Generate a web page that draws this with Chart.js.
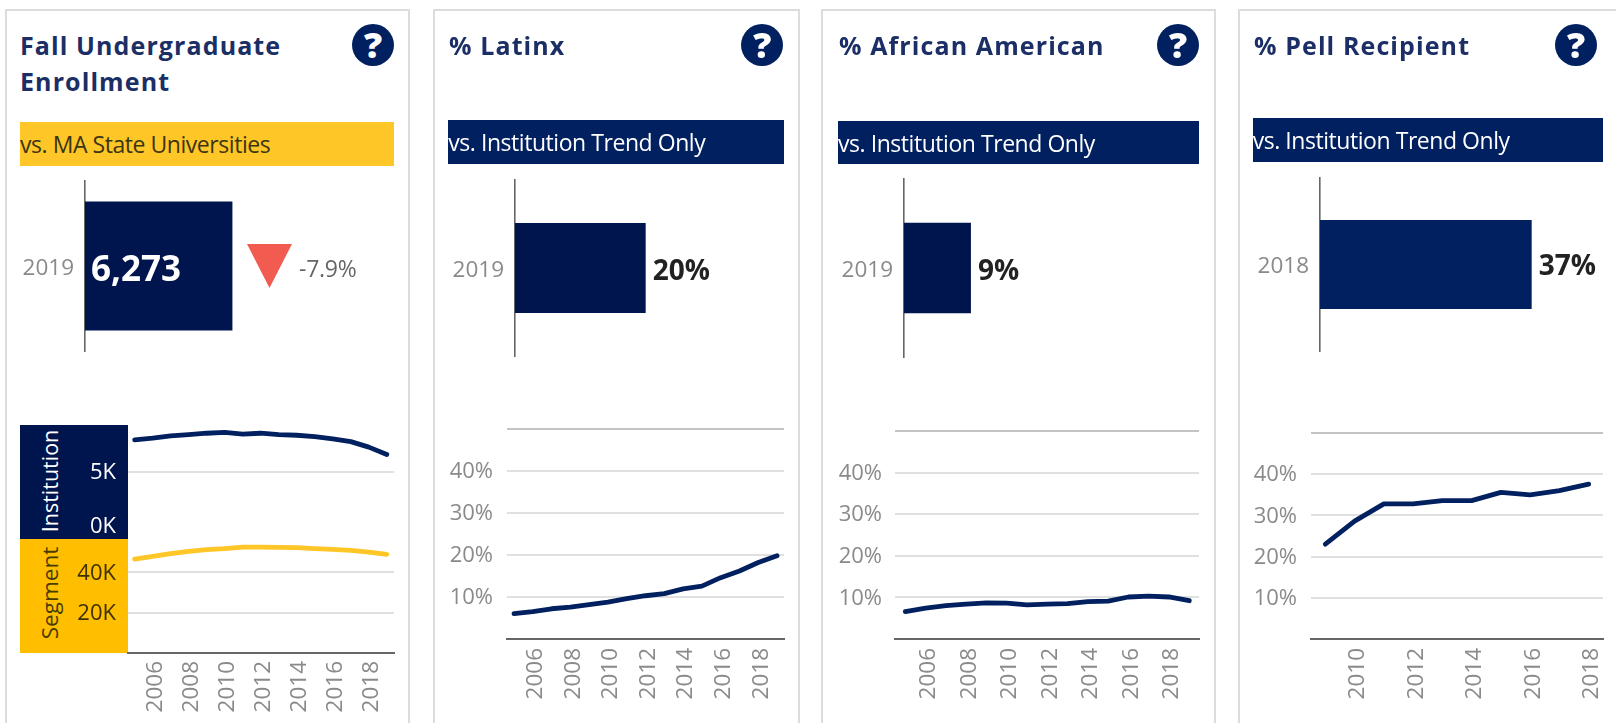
<!DOCTYPE html>
<html><head><meta charset="utf-8">
<script src="https://cdn.jsdelivr.net/npm/chart.js@4"></script>
<style>
html,body{margin:0;padding:0;background:#fff;width:1616px;height:723px;overflow:hidden}
#root{position:absolute;left:0;top:0;width:1616px;height:723px;overflow:hidden;filter:blur(.7px);font-family:"Open Sans",sans-serif}
.abs{position:absolute;white-space:nowrap}
.panel{position:absolute;top:9px;height:760px;border:2px solid #dcdcdc;box-sizing:border-box;background:#fff}
.title{position:absolute;color:#1b2f66;font-weight:700;font-size:25px;letter-spacing:1.1px;line-height:36px;white-space:nowrap}
.help{position:absolute;width:42px;height:42px;border-radius:50%;background:#002060;color:#fff;font-weight:800;font-size:36px;line-height:42px;text-align:center}
.band{position:absolute;overflow:hidden;white-space:nowrap;font-size:23px;letter-spacing:-.45px}
canvas{position:absolute;display:block}
.tri{position:absolute;background:#f25c50;clip-path:polygon(0 0,100% 0,50% 100%)}
.rot{position:absolute;transform:translate(-50%,-50%) rotate(-90deg);white-space:nowrap;font-size:22.5px}
</style></head><body><div id="root"></div>
<script>
// ---------- data ----------
const enrollYears   = [2005,2006,2007,2008,2009,2010,2011,2012,2013,2014,2015,2016,2017,2018,2019];
const institution   = [7.35,7.47,7.64,7.74,7.84,7.91,7.77,7.84,7.74,7.69,7.59,7.42,7.22,6.81,6.27];
const segment       = [46.6,48.0,49.3,50.5,51.3,51.8,52.6,52.6,52.4,52.3,51.8,51.4,51.0,50.1,49.0];
const latinx        = [6.05,6.5,7.2,7.6,8.2,8.8,9.6,10.3,10.8,11.95,12.6,14.6,16.2,18.2,19.8];
const africanAm     = [6.6,7.4,8.0,8.4,8.7,8.6,8.2,8.4,8.5,9.0,9.1,10.1,10.3,10.1,9.2];
const pellYears     = [2009,2010,2011,2012,2013,2014,2015,2016,2017,2018];
const pell          = [23,28.6,32.8,32.8,33.6,33.6,35.6,35,36,37.6];
const evenYears     = [2006,2008,2010,2012,2014,2016,2018];
const pellTickYears = [2010,2012,2014,2016,2018];
const pctTicks      = [0,10,20,30,40,50];
const pctLabels     = ['','10%','20%','30%','40%',''];
const instTicks     = [0,5];
const instLabels    = [['0K',''],'5K'];
const segTicks      = [0,20,40];
const segLabels     = ['','20K','40K'];
const barEnrollCat  = ['2019'];  const barEnroll = [6273];  const barEnrollLabel = '6,273';
const barLatinxCat  = ['2019'];  const barLatinx = [19.8];  const barLatinxLabel = '20%';
const barAfAmCat    = ['2019'];  const barAfAm   = [9.2];   const barAfAmLabel   = '9%';
const barPellCat    = ['2018'];  const barPell   = [37.4];  const barPellLabel   = '37%';
const changeLabel   = '-7.9%';

// ---------- helpers ----------
const root = document.getElementById('root');
const NAVY='#002060', DARK='#00144d', GOLD='#ffc627', FONT='"Open Sans",sans-serif';
function el(cls,css,html){const d=document.createElement('div');d.className=cls;Object.assign(d.style,css);if(html!=null)d.innerHTML=html;root.appendChild(d);return d;}
function canvas(l,t,w,h){const c=document.createElement('canvas');c.width=w;c.height=h;c.style.left=l+'px';c.style.top=t+'px';c.style.width=w+'px';c.style.height=h+'px';root.appendChild(c);return c;}

function lineChart(o){
  const padT=6,padR=6;
  const w=o.yW+(o.r-o.l)+padR, h=padT+(o.b-o.t)+o.xH;
  const c=canvas(o.l-o.yW,o.t-padT,Math.round(w),Math.round(h));
  new Chart(c,{type:'line',
    data:{datasets:[{data:o.years.map((x,i)=>({x,y:o.values[i]})),borderColor:o.color,borderWidth:4.8,pointRadius:0,tension:0,borderCapStyle:'round',borderJoinStyle:'round',clip:false}]},
    options:{responsive:false,animation:false,events:[],layout:{padding:{top:padT,right:padR,left:0,bottom:0}},
      plugins:{legend:{display:false},tooltip:{enabled:false}},
      scales:{
        x:{type:'linear',display:o.xH>0,min:o.xMin,max:o.xMax,
          grid:{display:false,drawTicks:false},
          border:{display:true,color:'#666',width:2},
          afterBuildTicks:s=>{s.ticks=(o.xTicks||[]).map(value=>({value}));},
          afterFit:s=>{s.height=o.xH;s.paddingLeft=0;s.paddingRight=0;},
          ticks:{autoSkip:false,minRotation:90,maxRotation:90,padding:o.xPad||9,labelOffset:3,color:'#8a8a8a',font:{family:FONT,size:22.5},callback:v=>String(v)}},
        y:{min:o.yMin,max:o.yMax,
          grid:{drawTicks:false,lineWidth:2,color:ctx=>{const v=ctx.tick&&ctx.tick.value;if(o.noGrid&&o.noGrid.includes(v))return 'rgba(0,0,0,0)';return v===o.topGrid?'#c4c4c4':'#e0e0e0';}},
          border:{display:false},
          afterBuildTicks:s=>{s.ticks=o.yTicks.map(value=>({value}));},
          afterFit:s=>{s.width=o.yW;s.paddingTop=0;s.paddingBottom=0;},
          ticks:{autoSkip:false,padding:o.yPad,labelOffset:1,color:o.yColor,font:{family:FONT,size:o.yFont||22,lineHeight:1.25},
            callback:(v,i)=>o.yLabels[o.yTicks.indexOf(v)]}}
      }}});
}

function barChart(o){
  const padR=70;
  const pw=o.r-o.l, ph=o.b-o.t;
  const c=canvas(o.l-o.yW,o.t,o.yW+Math.round(pw)+padR,Math.round(ph));
  const labelPlugin={id:'barLabel',afterDatasetsDraw(ch){
    const bar=ch.getDatasetMeta(0).data[0],g=ch.ctx;
    g.save();g.font='700 '+o.labelSize+'px '+FONT;g.fillStyle=o.labelColor;g.textBaseline='middle';g.textAlign='left';
    g.fillText(o.label,o.inside?ch.scales.x.left+o.labelGap:bar.x+o.labelGap,bar.y+o.labelDy);g.restore();}};
  new Chart(c,{type:'bar',plugins:[labelPlugin],
    data:{labels:o.cats,datasets:[{data:o.values,backgroundColor:o.color,barPercentage:o.barPct,categoryPercentage:1}]},
    options:{indexAxis:'y',responsive:false,animation:false,events:[],layout:{padding:{top:0,right:padR,left:0,bottom:0}},
      plugins:{legend:{display:false},tooltip:{enabled:false}},
      scales:{
        x:{display:false,min:0,max:o.xMax,grid:{display:false}},
        y:{grid:{display:false,drawTicks:false},border:{display:true,color:'#666',width:1.6},
          afterFit:s=>{s.width=o.yW;s.paddingTop=0;s.paddingBottom=0;},
          ticks:{padding:o.yPad,labelOffset:2.5,color:'#8a8a8a',font:{family:FONT,size:22.5}}}
      }}});
}

// ---------- panels ----------
[[5,405],[433,367],[821,395],[1238,420]].forEach(([l,w])=>el('panel',{left:l+'px',width:w+'px'}));

function header(tl,tt,title,hx,bl,br,bt,bb,bg,fg,text){
  el('title',{left:tl+'px',top:tt+'px'},title);
  el('help',{left:(hx-21)+'px',top:'24px'},'?');
  el('band',{left:bl+'px',top:bt+'px',width:(br-bl)+'px',height:(bb-bt)+'px',background:bg,color:fg,lineHeight:(bb-bt+1)+'px'},text);
}
header(20,27,'Fall Undergraduate<br>Enrollment',373,20,394.3,122.3,166,GOLD,'#3c3514','vs. MA State Universities');
header(449,27,'% Latinx',762.3,448.3,784.3,120.3,164.3,NAVY,'#fff','vs. Institution Trend Only');
header(839,27,'% African American',1178,838,1198.6,120.6,164,NAVY,'#fff','vs. Institution Trend Only');
header(1254,27,'% Pell Recipient',1576,1252.7,1602.7,118.3,162.3,NAVY,'#fff','vs. Institution Trend Only');

// bars
barChart({l:85,r:272.8,t:180,b:351.7,yW:75,yPad:11,barPct:.75,cats:barEnrollCat,values:barEnroll,xMax:8000,color:DARK,label:barEnrollLabel,inside:true,labelGap:6,labelSize:35,labelColor:'#fff',labelDy:5});
barChart({l:515.3,r:779.3,t:179,b:357,yW:80,yPad:11,barPct:.506,cats:barLatinxCat,values:barLatinx,xMax:40,color:DARK,label:barLatinxLabel,labelGap:7,labelSize:28,labelColor:'#222',labelDy:4});
barChart({l:903.8,r:1194.8,t:178,b:358,yW:80,yPad:11,barPct:.503,cats:barAfAmCat,values:barAfAm,xMax:40,color:DARK,label:barAfAmLabel,labelGap:7,labelSize:28,labelColor:'#222',labelDy:4});
barChart({l:1319.7,r:1602.2,t:176.7,b:351.7,yW:80,yPad:11,barPct:.508,cats:barPellCat,values:barPell,xMax:50,color:NAVY,label:barPellLabel,labelGap:7,labelSize:28,labelColor:'#222',labelDy:3});

// KPI change marker
el('tri',{left:'247px',top:'244px',width:'45px',height:'44px'});
el('abs',{left:'299px',top:'255px',color:'#666',fontSize:'23px',lineHeight:'26px',letterSpacing:'-.25px'},changeLabel);

// small-multiple blocks for panel 1
el('abs',{left:'20px',top:'425px',width:'108.3px',height:'114.3px',background:DARK});
el('abs',{left:'20px',top:'539.3px',width:'108.3px',height:'114px',background:'#ffbf00'});
el('rot',{left:'49px',top:'481px',color:'#fff',fontSize:'21.5px'},'Institution');
el('rot',{left:'49px',top:'593px',color:'#4a3c00'},'Segment');

lineChart({l:128.3,r:394.3,t:425,b:539.3,yW:108,xH:0,years:enrollYears,values:institution,color:NAVY,xMin:2004.63,xMax:2019.4,yMin:0,yMax:8.45,yTicks:instTicks,yLabels:instLabels,yPad:12,yColor:'#fff',noGrid:[0]});
lineChart({l:128.3,r:394.3,t:539.3,b:653.3,yW:108,xH:62,xPad:8,years:enrollYears,values:segment,color:GOLD,xMin:2004.63,xMax:2019.4,xTicks:evenYears,yMin:0,yMax:56.6,yTicks:segTicks,yLabels:segLabels,yPad:12,yColor:'#3c3000',noGrid:[0]});

lineChart({l:507,r:784,t:429,b:639,yW:70,xH:70,years:enrollYears,values:latinx,color:NAVY,xMin:2004.63,xMax:2019.37,xTicks:evenYears,yMin:0,yMax:50,yTicks:pctTicks,yLabels:pctLabels,yPad:14,yColor:'#8a8a8a',noGrid:[0],topGrid:50});
lineChart({l:894.7,r:1198.7,t:431.3,b:639.3,yW:70,xH:70,years:enrollYears,values:africanAm,color:NAVY,xMin:2004.49,xMax:2019.48,xTicks:evenYears,yMin:0,yMax:50,yTicks:pctTicks,yLabels:pctLabels,yPad:13,yColor:'#8a8a8a',noGrid:[0],topGrid:50});
lineChart({l:1311,r:1603,t:433.3,b:639.3,yW:70,xH:70,years:pellYears,values:pell,color:NAVY,xMin:2008.51,xMax:2018.49,xTicks:pellTickYears,yMin:0,yMax:50,yTicks:pctTicks,yLabels:pctLabels,yPad:14,yColor:'#8a8a8a',noGrid:[0],topGrid:50});
</script></body></html>
